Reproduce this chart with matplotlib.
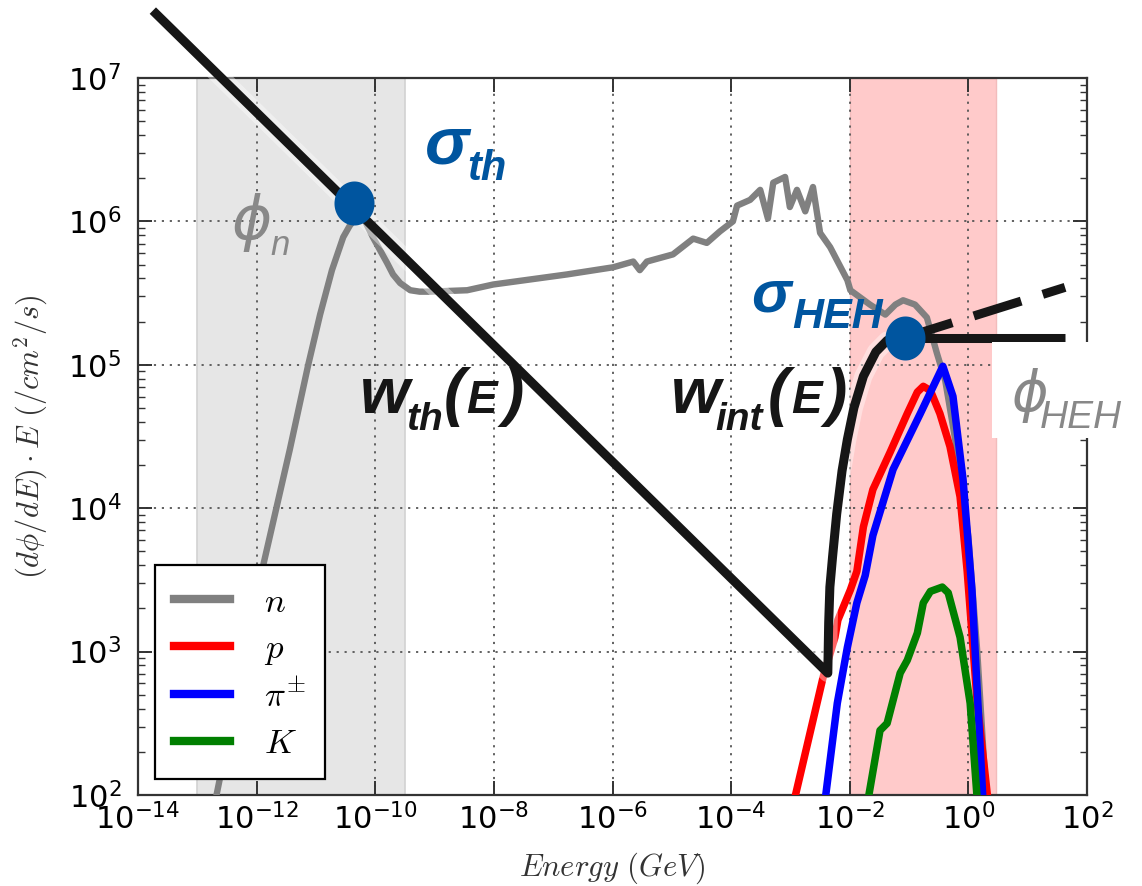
import numpy as np
import matplotlib
matplotlib.use("Agg")
import matplotlib.pyplot as plt
from matplotlib.ticker import NullLocator, FixedLocator, LogLocator
from matplotlib.patches import Rectangle
from matplotlib.path import Path
from matplotlib.markers import MarkerStyle
import matplotlib.patheffects as pe

# ---------------- data (log10 values) ----------------
n_logE = [-12.75, -11.89, -11.44, -11.13, -10.93, -10.73, -10.54, -10.43, -10.30, -10.17,
          -10.04, -9.92, -9.80, -9.70, -9.58, -9.41, -9.25, -9.08, -8.45, -8.01,
          -6.77, -5.99, -5.65, -5.54, -5.42, -4.98, -4.64, -4.41, -4.19, -3.97,
          -3.90, -3.68, -3.51, -3.38, -3.29, -3.09, -3.01, -2.89, -2.75, -2.62,
          -2.50, -2.33, -2.04, -1.99, -1.66, -1.40, -1.23, -1.10, -0.90, -0.70,
          -0.53, -0.39, -0.19, 0.00, 0.15, 0.32]
n_logY = [1.85, 3.60, 4.41, 5.00, 5.35, 5.66, 5.89, 5.97, 6.04, 6.00,
          5.89, 5.80, 5.71, 5.63, 5.57, 5.52, 5.51, 5.51, 5.52, 5.56,
          5.63, 5.68, 5.72, 5.66, 5.72, 5.77, 5.88, 5.85, 5.93, 6.00,
          6.11, 6.15, 6.22, 6.02, 6.27, 6.31, 6.10, 6.22, 6.07, 6.24,
          5.92, 5.82, 5.59, 5.52, 5.42, 5.35, 5.42, 5.45, 5.42, 5.33,
          5.08, 4.89, 4.40, 3.80, 3.00, 1.85]

p_logE = [-3.00, -2.45, -2.25, -2.20, -1.99, -1.88, -1.77, -1.61, -1.32, -1.03,
          -0.86, -0.76, -0.64, -0.48, -0.31, -0.14, -0.02, 0.15, 0.36]
p_logY = [1.85, 2.82, 3.10, 3.22, 3.43, 3.56, 3.87, 4.13, 4.39, 4.66,
          4.81, 4.85, 4.82, 4.66, 4.43, 4.08, 3.56, 2.64, 1.85]

pi_logE = [-2.45, -2.21, -2.04, -1.88, -1.74, -1.61, -1.27, -0.81, -0.43, -0.26,
           -0.09, 0.06, 0.26]
pi_logY = [1.85, 2.64, 3.03, 3.34, 3.53, 3.81, 4.27, 4.66, 4.99, 4.78,
           4.20, 3.43, 1.85]

K_logE = [-1.74, -1.49, -1.37, -1.15, -1.03, -0.86, -0.76, -0.64, -0.44, -0.34,
          -0.14, 0.03, 0.17]
K_logY = [1.85, 2.45, 2.50, 2.85, 2.94, 3.13, 3.34, 3.42, 3.45, 3.41,
          3.10, 2.64, 1.85]

# weighting function sketches
w_logE = [-13.75, -2.37, -2.355, -2.335, -2.29, -2.22, -2.13, -2.04, -1.93, -1.77,
          -1.56, -1.37, -1.07]
w_logY = [7.47, 2.85, 3.20, 3.45, 3.66, 3.96, 4.26, 4.48, 4.70, 4.92,
          5.09, 5.17, 5.19]
flat_logE = [-1.07, 1.63]
flat_logY = [5.19, 5.19]
rise_logE = [-1.07, 1.63]
rise_logY = [5.19, 5.54]
dots_logE = [-10.36, -1.07]
dots_logY = [6.13, 5.19]

gray_span = [-13.0, -9.5]
pink_span = [-2.0, 0.47]

series_labels = [r"$n$", r"$p$", r"$\pi^{\pm}$", r"$K$"]
series_colors = ["#808080", "#ff0000", "#0000ff", "#007f00"]

xticks_exp = list(range(-14, 3, 2))

# ---------------- figure ----------------
W, H = 1142, 886
plt.rcParams["mathtext.fontset"] = "cm"
plt.rcParams["font.family"] = ["DejaVu Sans"]
fig = plt.figure(figsize=(W / 100, H / 100), dpi=100)
ax = fig.add_axes([138 / W, 1 - 795 / H, (1087 - 138) / W, (795 - 78) / H])

def tv(a):
    return 10.0 ** np.asarray(a, dtype=float)

ax.set_xscale("log")
ax.set_yscale("log")
ax.set_xlim(1e-14, 1e2)
ax.set_ylim(1e2, 1e7)

ax.axvspan(*tv(gray_span), facecolor="#e6e6e6", edgecolor="#d2d2d2", lw=1.2, zorder=0)
ax.axvspan(*tv(pink_span), facecolor="#ffcaca", edgecolor="#f2bcbc", lw=1.0, zorder=0)

ax.xaxis.set_major_locator(FixedLocator(tv(xticks_exp)))
ax.xaxis.set_minor_locator(NullLocator())
ax.yaxis.set_major_locator(LogLocator(base=10, numticks=20))
ax.yaxis.set_minor_locator(LogLocator(base=10, subs=np.arange(2, 10), numticks=20))
ax.grid(True, which="major", color="#555555", ls=(0, (1.2, 3.2)), lw=1.3)
ax.set_axisbelow(True)

ax.tick_params(which="both", direction="in", top=True, right=True, color="#333333")
ax.tick_params(which="major", length=10, width=1.4, labelsize=22)
ax.tick_params(which="minor", length=5, width=1.0)
ax.tick_params(axis="y", which="major", pad=12)
ax.tick_params(axis="x", which="major", pad=6)
for s in ax.spines.values():
    s.set_color("#333333")
    s.set_linewidth(1.6)

lines = []
for lx, ly, c, lab, lw in [(n_logE, n_logY, series_colors[0], series_labels[0], 4.6),
                           (p_logE, p_logY, series_colors[1], series_labels[1], 5.4),
                           (pi_logE, pi_logY, series_colors[2], series_labels[2], 5.4),
                           (K_logE, K_logY, series_colors[3], series_labels[3], 5.4)]:
    ln, = ax.plot(tv(lx), tv(ly), color=c, lw=lw, label=lab, zorder=3,
                  solid_joinstyle="round")
    lines.append(ln)

halo = [pe.Stroke(linewidth=13, foreground="white", alpha=0.4), pe.Normal()]
ax.plot(tv(w_logE), tv(w_logY), color="#161616", lw=6.5, zorder=5, clip_on=False,
        solid_joinstyle="round", solid_capstyle="butt", path_effects=halo)
ax.plot(tv(flat_logE), tv(flat_logY), color="#161616", lw=6.5, zorder=5,
        solid_capstyle="butt")
ax.plot(tv(rise_logE), tv(rise_logY), color="#161616", lw=6.5, zorder=5,
        ls=(0, (5.5, 2.5)), dash_capstyle="butt")

th = np.linspace(0, 2 * np.pi, 80)
ell = Path(np.column_stack([np.cos(th), 1.1 * np.sin(th)]), closed=True)
ax.plot(tv(dots_logE), tv(dots_logY), ls="none", marker=MarkerStyle(ell),
        markersize=31.7, color="#00559f", markeredgewidth=0, zorder=6)

leg = ax.legend(handles=lines, loc="lower left", bbox_to_anchor=(0.018, 0.022),
                borderaxespad=0, fontsize=25, handlelength=1.6, handletextpad=1.0,
                labelspacing=0.36, borderpad=0.55, fancybox=False, framealpha=1,
                edgecolor="black")
leg.get_frame().set_linewidth(1.6)
for lh in leg.get_lines():
    lh.set_linewidth(6)

ax.set_xlabel(r"$Energy\ (GeV)$", fontsize=22, color="#333333")
ax.xaxis.set_label_coords(0.5, -0.077)
ax.set_ylabel(r"$(d\phi/dE)\cdot E\ (/cm^2/s)$", fontsize=22, color="#333333")
ax.yaxis.set_label_coords(-0.093, 0.5)

# white patch behind phi_HEH
fig.add_artist(Rectangle((992 / W, 1 - 438 / H), 150 / W, 96 / H,
                         transform=fig.transFigure, facecolor="white",
                         edgecolor="none", zorder=8))

def ptext(x, y, s, size, color, style="italic", weight="bold",
          family=("Liberation Sans", "DejaVu Sans")):
    fig.text(x / W, 1 - y / H, s, fontsize=size, color=color, ha="left",
             va="baseline", fontstyle=style, fontweight=weight,
             family=list(family), zorder=10)

BLUE = "#00559f"
BLACK = "#161616"
GRAY = "#888888"

ptext(425, 163, "σ", 48, BLUE)
ptext(467, 180, "th", 30, BLUE)
ptext(751, 312, "σ", 43, BLUE)
ptext(792, 328, "HEH", 31, BLUE)

ptext(360, 413, "w", 46, BLACK)
ptext(406, 430, "th", 28, BLACK)
ptext(444, 414, "(", 46, BLACK)
ptext(466, 413, "E", 33, BLACK)
ptext(503, 414, ")", 46, BLACK)

ptext(671, 413, "w", 46, BLACK)
ptext(715, 430, "int", 28, BLACK)
ptext(768, 414, "(", 46, BLACK)
ptext(791, 413, "E", 33, BLACK)
ptext(826, 414, ")", 46, BLACK)

ptext(231, 239, "ϕ", 44, GRAY, style="italic", weight="normal", family=("DejaVu Sans",))
ptext(270, 255, "n", 25, GRAY, style="italic", weight="normal")
ptext(1011, 411, "ϕ", 40, GRAY, style="italic", weight="normal", family=("DejaVu Sans",))
ptext(1040, 428, "HEH", 28, GRAY, style="italic", weight="normal")

fig.savefig("out.png", dpi=100)
